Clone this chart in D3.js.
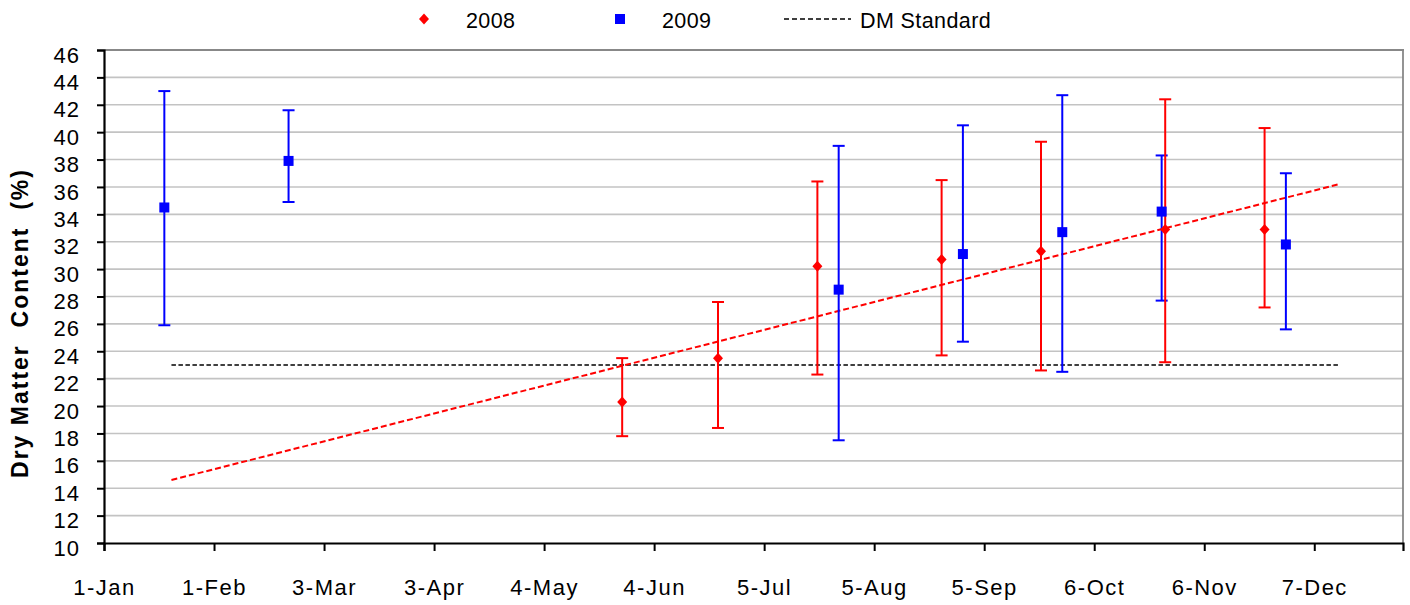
<!DOCTYPE html>
<html>
<head>
<meta charset="utf-8">
<script src="https://cdn.jsdelivr.net/npm/d3@7"></script>
<style>
  html, body { margin: 0; padding: 0; background: #fff; }
  svg { display: block; font-family: "Liberation Sans", Arial, sans-serif; }
</style>
</head>
<body>
<svg id="chart" width="1410" height="605"></svg>
<script>
// ---------------- data ----------------
const xTickLabels = ["1-Jan","1-Feb","3-Mar","3-Apr","4-May","4-Jun","5-Jul","5-Aug","5-Sep","6-Oct","6-Nov","7-Dec"];
const yTicks = [10,12,14,16,18,20,22,24,26,28,30,32,34,36,38,40,42,44,46];

const dates2008 = ["26-May","22-Jun","20-Jul","24-Aug","21-Sep","26-Oct","23-Nov"];
const mean2008  = [20.3, 23.5, 30.2, 30.7, 31.3, 32.9, 32.9];
const low2008   = [17.8, 18.4, 22.3, 23.7, 22.6, 23.2, 27.2];
const high2008  = [23.5, 27.6, 36.4, 36.5, 39.3, 42.4, 40.3];

const dates2009 = ["18-Jan","22-Feb","26-Jul","30-Aug","27-Sep","25-Oct","29-Nov"];
const mean2009  = [34.5, 37.9, 28.5, 31.1, 32.7, 34.2, 31.8];
const low2009   = [25.9, 34.9, 17.5, 24.7, 22.5, 27.7, 25.6];
const high2009  = [43.0, 41.6, 39.0, 40.5, 42.7, 38.3, 37.0];

const trendDates  = ["20-Jan","14-Dec"];
const trendValues = [14.6, 36.2];

const standardDates  = ["20-Jan","14-Dec"];
const standardValues = [23, 23];

const legendLabels = ["2008","2009","DM Standard"];
const yTitle = "Dry Matter  Content  (%)";

// ---------------- setup ----------------
const parse = s => d3.timeParse("%d-%b-%Y")(s + "-2008");
const svg = d3.select("#chart");
const L = 104, R = 1403, T = 50, B = 543;

const x = d3.scaleTime()
  .domain([new Date(2008,0,1), new Date(2009,0,1)])
  .range([L, R]);
const y = d3.scaleLinear().domain([10,46]).range([B, T]);

// gridlines
svg.append("g").selectAll("line")
  .data(yTicks.filter(v => v > 10 && v < 46))
  .join("line")
  .attr("x1", L).attr("x2", R)
  .attr("y1", d => y(d)).attr("y2", d => y(d))
  .attr("stroke", "#c3c3c3").attr("stroke-width", 1.6);

// top & right border
svg.append("line").attr("x1", L).attr("x2", R + 1).attr("y1", y(46)).attr("y2", y(46))
  .attr("stroke", "#888").attr("stroke-width", 1.8);
svg.append("line").attr("x1", R).attr("x2", R).attr("y1", y(46)).attr("y2", B)
  .attr("stroke", "#888").attr("stroke-width", 1.8);

// axes
const yAxis = svg.append("g").attr("transform", `translate(${L},0)`)
  .call(d3.axisLeft(y).tickValues(yTicks).tickSize(7).tickPadding(17).tickFormat(d3.format("d")));
yAxis.select(".domain").attr("stroke", "#000").attr("stroke-width", 2.2);
yAxis.selectAll(".tick line").attr("stroke", "#000").attr("stroke-width", 2);
yAxis.selectAll(".tick text")
  .attr("font-family", "Liberation Sans, Arial, sans-serif")
  .attr("font-size", 22).attr("fill", "#000").attr("dy", "0.55em")
  .style("letter-spacing", "1px");

const xAxis = svg.append("g").attr("transform", `translate(0,${B})`)
  .call(d3.axisBottom(x).tickValues(xTickLabels.map(parse)).tickSize(8).tickPadding(28)
    .tickFormat((d, i) => xTickLabels[i]));
xAxis.select(".domain").attr("stroke", "#000").attr("stroke-width", 2.2);
xAxis.selectAll(".tick line").attr("stroke", "#000").attr("stroke-width", 2);
xAxis.selectAll(".tick text")
  .attr("font-family", "Liberation Sans, Arial, sans-serif")
  .attr("font-size", 22).attr("fill", "#000")
  .style("letter-spacing", "1.5px");

// y title
svg.append("text")
  .attr("transform", `translate(28,${(168+478)/2}) rotate(-90)`)
  .attr("text-anchor", "middle")
  .attr("font-weight", "bold").attr("font-size", 23)
  .style("letter-spacing", "2px").style("white-space", "pre")
  .text(yTitle);

// DM standard line
const lineGen = d3.line().x(d => x(d[0])).y(d => y(d[1]));
svg.append("path")
  .attr("d", lineGen(standardDates.map((d,i) => [parse(d), standardValues[i]])))
  .attr("fill", "none").attr("stroke", "#000").attr("stroke-width", 1.6)
  .attr("stroke-dasharray", "4.5,2.5");

// trend line
svg.append("path")
  .attr("d", lineGen(trendDates.map((d,i) => [parse(d), trendValues[i]])))
  .attr("fill", "none").attr("stroke", "#ff0000").attr("stroke-width", 2)
  .attr("stroke-dasharray", "6,3");

// error bars
function errorBars(dates, lows, highs, color) {
  const g = svg.append("g").attr("stroke", color).attr("stroke-width", 2);
  dates.forEach((d, i) => {
    const cx = x(parse(d));
    g.append("line").attr("x1", cx).attr("x2", cx).attr("y1", y(lows[i])).attr("y2", y(highs[i]));
    g.append("line").attr("x1", cx - 6).attr("x2", cx + 6).attr("y1", y(lows[i])).attr("y2", y(lows[i]));
    g.append("line").attr("x1", cx - 6).attr("x2", cx + 6).attr("y1", y(highs[i])).attr("y2", y(highs[i]));
  });
}
errorBars(dates2009, low2009, high2009, "#0000ff");
errorBars(dates2008, low2008, high2008, "#ff0000");

const diamond = (w, h) => `M0,${-h}L${w},0L0,${h}L${-w},0Z`;

svg.append("g").selectAll("rect")
  .data(dates2009.map((d,i) => [parse(d), mean2009[i]]))
  .join("rect")
  .attr("x", d => x(d[0]) - 5).attr("y", d => y(d[1]) - 5)
  .attr("width", 10).attr("height", 10).attr("fill", "#0000ff");

svg.append("g").selectAll("path")
  .data(dates2008.map((d,i) => [parse(d), mean2008[i]]))
  .join("path")
  .attr("transform", d => `translate(${x(d[0])},${y(d[1])})`)
  .attr("d", diamond(5, 5.5)).attr("fill", "#ff0000");

// legend
const lg = svg.append("g");
lg.append("path").attr("transform", "translate(424,19)").attr("d", diamond(5, 5.5)).attr("fill", "#ff0000");
lg.append("rect").attr("x", 615).attr("y", 14).attr("width", 10).attr("height", 10).attr("fill", "#0000ff");
lg.append("line").attr("x1", 784).attr("x2", 851).attr("y1", 19).attr("y2", 19)
  .attr("stroke", "#000").attr("stroke-width", 1.5).attr("stroke-dasharray", "5,3");
const legendX = [466, 662, 860];
legendLabels.forEach((t, i) => {
  lg.append("text")
    .attr("x", legendX[i]).attr("y", 28)
    .attr("font-size", 21.5).attr("fill", "#000")
    .style("letter-spacing", "0.4px")
    .text(t);
});
</script>
</body>
</html>
